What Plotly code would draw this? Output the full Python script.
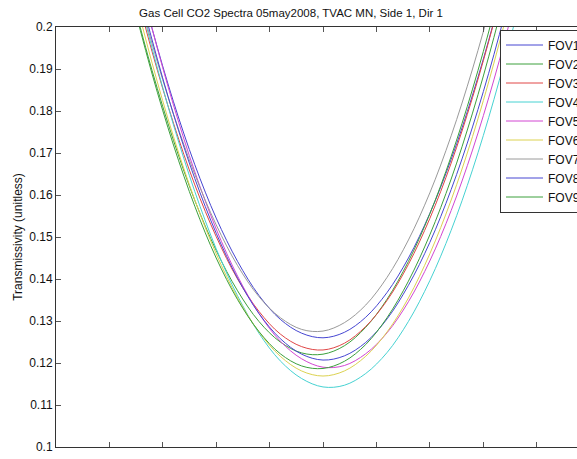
import plotly.graph_objects as go

# Spectral sample positions (axis units, one tick = 1.0)
x_pos = [1.4, 1.8, 2.2, 2.6, 3.0, 3.4, 3.8, 4.2, 4.6, 5.0,
         5.4, 5.8, 6.2, 6.6, 7.0, 7.4, 7.8, 8.2, 8.6, 9.0]

fov_names = ["FOV1", "FOV2", "FOV3", "FOV4", "FOV5", "FOV6", "FOV7", "FOV8", "FOV9"]

fov1 = [.2193, .1996, .1822, .1672, .1545, .1442, .1361, .1304, .1271, .1260,
        .1273, .1309, .1368, .1450, .1556, .1685, .1838, .2013, .2212, .2434]
fov2 = [.2085, .1896, .1730, .1587, .1468, .1372, .1299, .1250, .1224, .1221,
        .1241, .1285, .1352, .1442, .1555, .1692, .1852, .2035, .2242, .2471]
fov3 = [.2135, .1941, .1771, .1624, .1501, .1400, .1323, .1269, .1239, .1231,
        .1247, .1287, .1349, .1435, .1544, .1676, .1832, .2011, .2213, .2438]
fov4 = [.2154, .1949, .1767, .1608, .1472, .1360, .1271, .1205, .1163, .1143,
        .1147, .1175, .1225, .1299, .1396, .1516, .1660, .1827, .2017, .2230]
fov5 = [.2201, .1996, .1814, .1655, .1519, .1407, .1318, .1252, .1210, .1190,
        .1194, .1222, .1272, .1346, .1443, .1563, .1707, .1874, .2064, .2277]
fov6 = [.2111, .1914, .1739, .1588, .1460, .1355, .1274, .1216, .1181, .1169,
        .1181, .1216, .1274, .1355, .1460, .1588, .1739, .1914, .2111, .2332]
fov7 = [.2150, .1960, .1793, .1649, .1529, .1432, .1358, .1308, .1280, .1276,
        .1296, .1338, .1404, .1493, .1605, .1741, .1900, .2082, .2287, .2516]
fov8 = [.2169, .1969, .1792, .1639, .1509, .1402, .1318, .1258, .1221, .1207,
        .1217, .1249, .1305, .1385, .1487, .1613, .1762, .1934, .2130, .2349]
fov9 = [.2080, .1888, .1719, .1573, .1450, .1351, .1275, .1222, .1193, .1187,
        .1204, .1244, .1308, .1395, .1505, .1638, .1795, .1975, .2178, .2405]

fov_values = [fov1, fov2, fov3, fov4, fov5, fov6, fov7, fov8, fov9]

line_colors = ["#4646d2", "#3ca03c", "#e04646", "#46d2d2", "#d246d2",
               "#dcd250", "#9a9a9a", "#4646d2", "#3ca03c"]

y_ticks = [0.1, 0.11, 0.12, 0.13, 0.14, 0.15, 0.16, 0.17, 0.18, 0.19, 0.2]

W, H = 577, 459
left, top, bottom = 56, 27, 12
plot_w, plot_h = W - left, H - top - bottom
tick_px = 53.4

fig = go.Figure()
for name, vals, col in zip(fov_names, fov_values, line_colors):
    fig.add_trace(go.Scatter(
        x=x_pos, y=vals, name=name, mode="lines",
        line=dict(color=col, width=1, shape="spline", smoothing=1.0),
    ))

font_family = "Liberation Sans, Arial, Helvetica, sans-serif"

fig.update_layout(
    width=W, height=H,
    margin=dict(l=left, r=0, t=top, b=bottom, autoexpand=False),
    paper_bgcolor="white", plot_bgcolor="white",
    font=dict(family=font_family, size=12, color="#111"),
    title=dict(
        text="Gas Cell CO2 Spectra 05may2008, TVAC MN, Side 1, Dir 1",
        x=291 / W, xref="container", xanchor="center",
        y=1 - 13 / H, yref="container", yanchor="middle",
        font=dict(size=11.5, color="#111"),
    ),
    showlegend=True,
    legend=dict(
        x=(500 - left) / plot_w, xref="paper", xanchor="left",
        y=(H - bottom - 29.5) / plot_h, yanchor="top",
        bgcolor="white", bordercolor="#333", borderwidth=1,
        font=dict(size=12, color="#111"),
        itemwidth=37, tracegroupgap=0,
    ),
)

fig.update_xaxes(
    range=[0, plot_w / tick_px], tick0=0, dtick=1,
    ticks="inside", ticklen=5, tickcolor="#555", tickwidth=1,
    showticklabels=False, showline=True, linecolor="#333", linewidth=1,
    mirror="ticks", showgrid=False, zeroline=False,
)
fig.update_yaxes(
    range=[0.1, 0.2], tickvals=y_ticks,
    ticktext=[f"{v:g}" for v in y_ticks],
    ticks="inside", ticklen=5, tickcolor="#555", tickwidth=1,
    showline=True, linecolor="#333", linewidth=1,
    showgrid=False, zeroline=False,
    tickfont=dict(size=12, color="#111"),
    title=dict(text="Transmissivity (unitless)", font=dict(size=12, color="#111"), standoff=4),
)

fig.write_html("out.html")
